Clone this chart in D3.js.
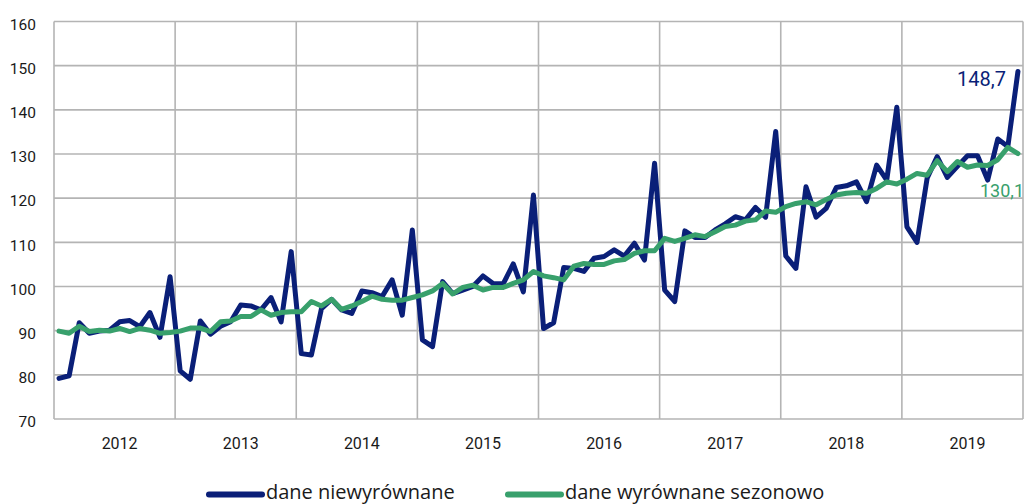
<!DOCTYPE html>
<html><head><meta charset="utf-8">
<script src="https://cdn.jsdelivr.net/npm/d3@7"></script>
<style>
html,body{margin:0;padding:0;background:#fff;}
svg{display:block;font-family:Roboto,"Open Sans",sans-serif;}
</style></head>
<body><svg id="chart" width="1024" height="504"></svg>
<script>
const years = ["2012","2013","2014","2015","2016","2017","2018","2019"];
const yTicks = [70,80,90,100,110,120,130,140,150,160];
const seriesNames = ["dane niewyrównane","dane wyrównane sezonowo"];
const nsa = [
 79.2, 79.8, 91.8, 89.4, 89.9, 90.1, 92.0, 92.3, 90.9, 94.1, 88.5, 102.2,
 80.9, 79.0, 92.2, 89.2, 91.0, 92.0, 95.8, 95.6, 94.7, 97.5, 92.0, 107.9,
 84.8, 84.5, 95.0, 97.1, 94.7, 93.9, 99.0, 98.6, 97.7, 101.5, 93.5, 112.8,
 87.9, 86.4, 101.1, 98.4, 99.2, 100.0, 102.4, 100.7, 100.6, 105.1, 98.8, 120.7,
 90.5, 91.8, 104.3, 104.1, 103.4, 106.4, 106.8, 108.3, 106.9, 109.8, 106.0, 127.9,
 99.2, 96.6, 112.6, 111.1, 111.1, 112.8, 114.2, 115.8, 115.1, 117.9, 115.7, 135.1,
 106.9, 104.1, 122.6, 115.7, 117.7, 122.4, 122.8, 123.7, 119.2, 127.5, 124.1, 140.6,
 113.5, 110.0, 124.5, 129.4, 124.7, 127.2, 129.6, 129.6, 124.1, 133.4, 131.7, 148.7
];
const sa = [
 89.9, 89.4, 91.0, 89.8, 90.1, 89.9, 90.5, 89.8, 90.5, 90.1, 89.4, 89.6,
 89.9, 90.6, 90.6, 89.8, 92.0, 92.2, 93.2, 93.2, 94.7, 93.5, 94.1, 94.3,
 94.3, 96.6, 95.6, 97.1, 94.8, 95.6, 96.6, 97.8, 97.1, 96.9, 96.9, 97.5,
 98.1, 99.0, 100.7, 98.3, 99.8, 100.3, 99.2, 99.8, 99.8, 100.7, 101.5, 103.4,
 102.4, 102.0, 101.5, 104.6, 105.2, 105.0, 105.0, 105.8, 106.1, 107.5, 108.1, 108.1,
 110.9, 110.2, 110.9, 111.7, 111.3, 112.4, 113.6, 113.9, 114.8, 115.1, 117.1, 116.8,
 118.1, 118.8, 119.2, 118.5, 119.7, 120.7, 121.1, 121.3, 121.1, 122.2, 123.7, 123.2,
 124.3, 125.6, 125.2, 128.5, 126.0, 128.3, 127.0, 127.5, 127.4, 128.7, 131.5, 130.1
];
const lastLabels = ["148,7","130,1"];

const colNsa = "#0a1f78", colSa = "#38a06c";
const svg = d3.select("#chart");
const L = 54, R = 1023, T = 21.5, B = 419;
const x = d3.scaleBand().domain(d3.range(nsa.length)).range([L, R]);
const xc = i => x(i) + x.bandwidth()/2;
const y = d3.scaleLinear().domain([70,160]).range([B, T]);

const grid = svg.append("g");
grid.selectAll("line.h").data(yTicks).join("line")
  .attr("x1", L).attr("x2", R).attr("y1", d=>y(d)).attr("y2", d=>y(d))
  .attr("stroke", "#b4b4b4").attr("stroke-width", 1.6);
const vIdx = d3.range(0, years.length + 1).map(k => k*12);
grid.selectAll("line.v").data(vIdx).join("line")
  .attr("x1", d => d < nsa.length ? x(d) : R).attr("x2", d => d < nsa.length ? x(d) : R)
  .attr("y1", T).attr("y2", B)
  .attr("stroke", "#b4b4b4").attr("stroke-width", 1.6);

const yAxis = d3.axisLeft(y).tickValues(yTicks).tickSize(0).tickPadding(0);
const ga = svg.append("g").attr("transform", `translate(36,0)`).call(yAxis);
ga.select(".domain").remove();
ga.selectAll("text").attr("font-size", 15.5).attr("fill", "#1a1a1a")
  .attr("font-family", "Roboto,sans-serif").attr("dy", "0.5em");

svg.append("g").selectAll("text").data(years).join("text")
  .attr("x", (d,k) => xc(k*12 + 6)).attr("y", 449)
  .attr("text-anchor", "middle").attr("font-size", 16).attr("fill", "#1a1a1a")
  .text(d => d);

const line = d3.line().x((d,i) => xc(i)).y(d => y(d));
svg.append("path").datum(nsa).attr("d", line).attr("fill", "none")
  .attr("stroke", colNsa).attr("stroke-width", 5).attr("stroke-linejoin", "round").attr("stroke-linecap", "round");
svg.append("path").datum(sa).attr("d", line).attr("fill", "none")
  .attr("stroke", colSa).attr("stroke-width", 5).attr("stroke-linejoin", "round").attr("stroke-linecap", "round");

const n = nsa.length - 1;
svg.append("text").attr("x", 1006).attr("y", y(nsa[n]) + 15)
  .attr("text-anchor", "end").attr("font-size", 20).attr("fill", colNsa).text(lastLabels[0]);
svg.append("text").attr("x", 1024).attr("y", y(sa[n]) + 43)
  .attr("text-anchor", "end").attr("font-size", 18).attr("fill", colSa).text(lastLabels[1]);

const leg = svg.append("g");
const legItems = [{name: seriesNames[0], c: colNsa, x0: 209}, {name: seriesNames[1], c: colSa, x0: 508}];
legItems.forEach(it => {
  leg.append("line").attr("x1", it.x0).attr("x2", it.x0 + 53).attr("y1", 494.5).attr("y2", 494.5)
    .attr("stroke", it.c).attr("stroke-width", 6).attr("stroke-linecap", "round");
  leg.append("text").attr("x", it.x0 + 57).attr("y", 499).attr("font-size", 20)
    .attr("font-family", "'Open Sans',sans-serif")
    .attr("fill", "#1a1a1a").text(it.name);
});
</script></body></html>
